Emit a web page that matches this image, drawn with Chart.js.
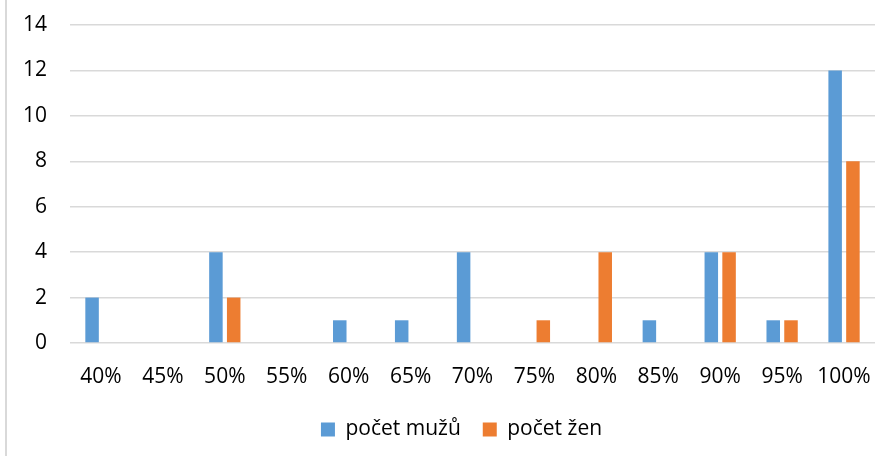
<!DOCTYPE html>
<html>
<head>
<meta charset="utf-8">
<script src="https://cdn.jsdelivr.net/npm/chart.js@4/dist/chart.umd.min.js"></script>
<style>
  html, body { margin: 0; padding: 0; background: #fff; }
  #wrap { position: relative; width: 894px; height: 456px; }
  #frame { position: absolute; left: 5px; top: 0; width: 2px; height: 456px; background: #d9d9d9; }
</style>
</head>
<body>
<div id="wrap">
  <div id="frame"></div>
  <canvas id="myChart" width="894" height="456"></canvas>
</div>
<script>
// categories and series
var categories = ['40%', '45%', '50%', '55%', '60%', '65%', '70%', '75%', '80%', '85%', '90%', '95%', '100%'];
var menCounts = [2, 0, 4, 0, 1, 1, 4, 0, 0, 1, 4, 1, 12];
var womenCounts = [0, 0, 2, 0, 0, 0, 0, 1, 4, 0, 4, 1, 8];
var seriesNames = ['počet mužů', 'počet žen'];
var yTicks = [0, 2, 4, 6, 8, 10, 12, 14];

var fontFamily = '"Open Sans", "Noto Sans", sans-serif';

// nudge the legend a bit right and up, like in the original
var legendNudge = {
    id: 'legendNudge',
    afterLayout: function (chart) {
        var lg = chart.legend;
        lg.left += 48;
        lg.top -= 6;
        lg.bottom -= 6;
    }
};

var ctx = document.getElementById('myChart').getContext('2d');
new Chart(ctx, {
    type: 'bar',
    data: {
        labels: categories,
        datasets: [{
            label: seriesNames[0],
            data: menCounts,
            backgroundColor: '#5B9BD5'
        }, {
            label: seriesNames[1],
            data: womenCounts,
            backgroundColor: '#ED7D31'
        }]
    },
    options: {
        responsive: false,
        animation: false,
        layout: { padding: { top: 25, right: 19, left: 0, bottom: 0 } },
        datasets: {
            bar: { categoryPercentage: 0.574, barPercentage: 0.76 }
        },
        scales: {
            x: {
                afterFit: function (axis) { axis.height = 60; },
                grid: { display: false, drawTicks: false },
                border: { display: false },
                ticks: {
                    color: '#000',
                    font: { family: fontFamily, size: 21 },
                    padding: 21,
                    maxRotation: 0,
                    autoSkip: false
                }
            },
            y: {
                min: 0,
                max: 14,
                afterFit: function (axis) {
                    axis.width = 70;
                    // keep the label padding from pushing the plot down
                    axis.paddingTop = 0;
                    axis.paddingBottom = 0;
                },
                afterBuildTicks: function (axis) {
                    axis.ticks = yTicks.map(function (v) { return { value: v }; });
                },
                grid: { color: '#d9d9d9', lineWidth: 1.5, drawTicks: false },
                border: { display: false },
                ticks: {
                    color: '#000',
                    font: { family: fontFamily, size: 21 },
                    padding: 23
                }
            }
        },
        plugins: {
            tooltip: { enabled: false },
            legend: {
                position: 'bottom',
                labels: {
                    color: '#000',
                    font: { family: fontFamily, size: 21 },
                    boxWidth: 14,
                    boxHeight: 14,
                    padding: 22
                }
            }
        }
    },
    plugins: [legendNudge]
});
</script>
</body>
</html>
